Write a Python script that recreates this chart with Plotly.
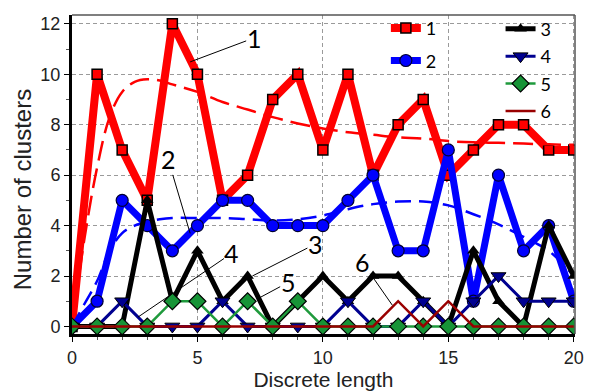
import plotly.graph_objects as go

# ---------------- data ----------------
x_vals = list(range(21))
s1 = [0, 10, 7, 5, 12, 10, 5, 6, 9, 10, 7, 10, 6, 8, 9, 6, 7, 8, 8, 7, 7]
s2 = [0, 1, 5, 4, 3, 4, 5, 5, 4, 4, 4, 5, 6, 3, 3, 7, 1, 6, 3, 4, 1]
s3 = [0, 0, 0, 5, 1, 3, 1, 2, 0, 1, 2, 1, 2, 2, 1, 0, 3, 1, 0, 4, 2]
s4 = [0, 0, 1, 0, 0, 0, 1, 0, 0, 0, 0, 1, 0, 0, 1, 0, 1, 2, 1, 1, 1]
s5 = [0, 0, 0, 0, 1, 1, 0, 1, 0, 1, 0, 0, 0, 0, 0, 0, 0, 0, 0, 0, 0]
s6 = [0, 0, 0, 0, 0, 0, 0, 0, 0, 0, 0, 0, 0, 1, 0, 1, 0, 0, 0, 0, 0]

trend_x = [0, 0.5, 1, 1.5, 2, 2.5, 3, 3.5, 4, 5, 6, 7, 8, 9, 10,
           11, 12, 13, 14, 15, 16, 17, 18, 19, 20]
trend1 = [0, 3.5, 6.3, 8.3, 9.3, 9.7, 9.8, 9.75, 9.6, 9.3, 8.9, 8.6, 8.3,
          8.05, 7.85, 7.7, 7.6, 7.5, 7.45, 7.35, 7.3, 7.28, 7.25, 7.22, 7.2]
trend2 = [0, 0.9, 1.8, 3.0, 3.7, 4.0, 4.15, 4.25, 4.3, 4.3, 4.3, 4.25, 4.2,
          4.25, 4.4, 4.65, 4.85, 4.95, 4.95, 4.8, 4.45, 4.05, 3.55, 3.0, 2.0]

names = ["1", "2", "3", "4", "5", "6"]
x_ticks = [0, 5, 10, 15, 20]
y_ticks = [0, 2, 4, 6, 8, 10, 12]

# ---------------- figure ----------------
fig = go.Figure()

fig.add_trace(go.Scatter(
    x=x_vals, y=s1, name=names[0], mode="lines+markers",
    line=dict(color="#ff0000", width=8),
    marker=dict(symbol="square", size=10, color="#ff0000",
                line=dict(color="#000000", width=1.5)),
    legend="legend", legendgroup="g1", legendrank=1))
fig.add_trace(go.Scatter(
    x=trend_x, y=trend1, mode="lines", showlegend=False,
    line=dict(color="#ff0000", width=2.5, dash="20px,8px", shape="spline")))
fig.add_trace(go.Scatter(
    x=x_vals, y=s2, name=names[1], mode="lines+markers",
    line=dict(color="#0000ff", width=7),
    marker=dict(symbol="circle", size=12, color="#0000ff",
                line=dict(color="#000033", width=1.2)),
    legend="legend", legendgroup="g2", legendrank=2))
fig.add_trace(go.Scatter(
    x=trend_x, y=trend2, mode="lines", showlegend=False,
    line=dict(color="#0000ff", width=2.5, dash="16px,8px", shape="spline")))
fig.add_trace(go.Scatter(
    x=x_vals, y=s3, name=names[2], mode="lines+markers",
    line=dict(color="#000000", width=5),
    marker=dict(symbol="triangle-up", size=11, color="#000000"),
    legend="legend2", legendgroup="g3", legendrank=1))
fig.add_trace(go.Scatter(
    x=x_vals, y=s4, name=names[3], mode="lines+markers",
    line=dict(color="#000090", width=3),
    marker=dict(symbol="triangle-down", size=13, color="#000090",
                line=dict(color="#000000", width=1)),
    legend="legend2", legendgroup="g4", legendrank=2))
fig.add_trace(go.Scatter(
    x=x_vals, y=s5, name=names[4], mode="lines+markers",
    line=dict(color="#1f9a3c", width=2.5),
    marker=dict(symbol="diamond", size=13, color="#179437",
                line=dict(color="#000000", width=1.2)),
    legend="legend2", legendgroup="g5", legendrank=3))
fig.add_trace(go.Scatter(
    x=x_vals, y=s6, name=names[5], mode="lines",
    line=dict(color="#990000", width=2.5),
    legend="legend2", legendgroup="g6", legendrank=4))

# leader-line labels
label_font = dict(family="Lato, Open Sans, sans-serif", size=25, color="#000000")
labels = [
    ("1", 4.71, 10.49, 64, -24),
    ("2", 4.71, 3.69, -22, -74),
    ("4", 2.63, 0.37, 94, -64),
    ("3", 7.19, 2.0, 63, -32),
    ("5", 7.5, 1.15, 28, -15),
    ("6", 12.77, 0.84, -30, -43),
]
annotations = []
for txt, tx, ty, ax, ay in labels:
    annotations.append(dict(
        x=tx, y=ty, xref="x", yref="y", text=txt, showarrow=True,
        arrowhead=0, arrowwidth=1, arrowcolor="#000000",
        ax=ax, ay=ay, font=label_font, standoff=0, borderpad=0))

axis_font = dict(family="Liberation Sans, Arial, sans-serif", size=18, color="#222222")
xtitle_font = dict(family="Liberation Sans, Arial, sans-serif", size=21, color="#222222")
ytitle_font = dict(family="Liberation Sans, Arial, sans-serif", size=24, color="#222222")
legend_font = dict(family="Lato, Open Sans, sans-serif", size=18, color="#000000")

# y-axis title (placed as a rotated label, slightly below the axis centre as in the original)
annotations.append(dict(
    text="Number of clusters", xref="paper", yref="paper",
    x=-0.0994, y=0.4506, xanchor="center", yanchor="middle",
    textangle=-90, showarrow=False, font=ytitle_font))

fig.update_layout(
    width=593, height=391,
    margin=dict(l=72, r=18, t=10, b=57),
    paper_bgcolor="#ffffff", plot_bgcolor="#ffffff",
    annotations=annotations,
    shapes=[
        dict(type="line", xref="paper", yref="paper", x0=0, x1=1, y0=1, y1=1,
             line=dict(color="#555555", width=1.5)),
        dict(type="line", xref="paper", yref="paper", x0=1, x1=1, y0=0, y1=1,
             line=dict(color="#555555", width=1.5)),
    ],
    legend=dict(x=0.624, y=1.016, xanchor="left", yanchor="top",
                bgcolor="rgba(0,0,0,0)", font=legend_font,
                tracegroupgap=6, itemwidth=30),
    legend2=dict(x=0.852, y=1.014, xanchor="left", yanchor="top",
                 bgcolor="rgba(0,0,0,0)", font=legend_font,
                 tracegroupgap=1, itemwidth=30),
    xaxis=dict(
        range=[0, 20.05], tickmode="array", tickvals=x_ticks,
        ticktext=[str(v) for v in x_ticks], automargin=False,
        showline=True, linecolor="#000000", linewidth=3,
        ticks="outside", ticklen=5, tickcolor="#000000", tickwidth=1,
        minor=dict(dtick=1, ticks="outside", ticklen=3, tickcolor="#555555", showgrid=False),
        showgrid=True, gridcolor="#9a9a9a", gridwidth=1, griddash="4px,3px",
        zeroline=False, tickfont=axis_font,
        title=dict(text="Discrete length", font=xtitle_font, standoff=2),
    ),
    yaxis=dict(
        range=[-0.3, 12.35], tickmode="array", tickvals=y_ticks,
        ticktext=[str(v) for v in y_ticks], automargin=False,
        showline=True, linecolor="#000000", linewidth=3,
        ticks="outside", ticklen=5, tickcolor="#000000", tickwidth=1,
        minor=dict(dtick=1, tick0=0, ticks="outside", ticklen=3, tickcolor="#555555", showgrid=False),
        showgrid=True, gridcolor="#9a9a9a", gridwidth=1, griddash="4px,3px",
        zeroline=False, tickfont=axis_font,
    ),
)

fig.write_html("out.html")
